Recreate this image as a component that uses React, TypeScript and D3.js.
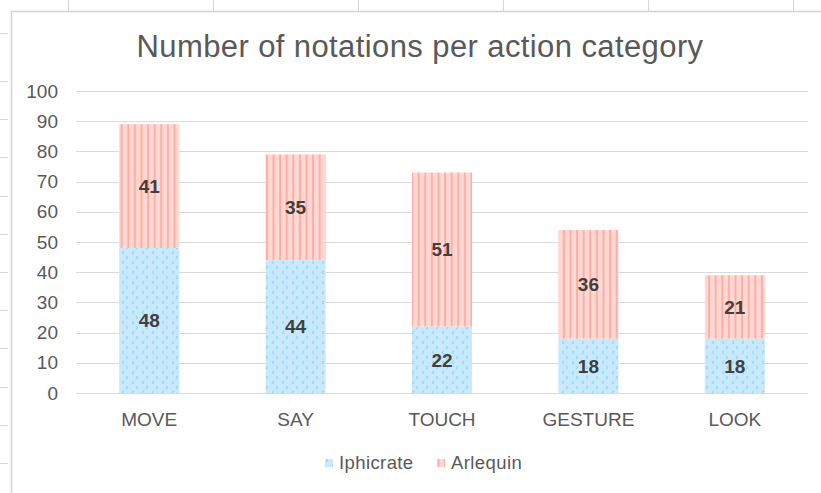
import React, { useEffect, useRef } from 'react';
import * as d3 from 'd3';

// chart data
const categories = ['MOVE', 'SAY', 'TOUCH', 'GESTURE', 'LOOK'];
const iphicrate = [48, 44, 22, 18, 18];
const arlequin = [41, 35, 51, 36, 21];
const seriesNames = ['Iphicrate', 'Arlequin'];
const yTicks = [0, 10, 20, 30, 40, 50, 60, 70, 80, 90, 100];

// spreadsheet background lines
const sheetCols = [68, 213, 358, 503, 648, 793];
const sheetRows = [33, 81, 119, 157, 196, 234, 272, 310, 348, 387, 425, 463];

const W = 821;
const H = 493;
const FONT = '"Liberation Sans", Arial, Helvetica, sans-serif';

export default function App() {
    const svgRef = useRef<SVGSVGElement | null>(null);

    useEffect(() => {
        if (!svgRef.current) return;
        const svg = d3.select(svgRef.current);
        svg.selectAll('*').remove();

        // Patterns
        const defs = svg.append('defs');
        const blue = defs.append('pattern')
            .attr('id', 'pat-blue')
            .attr('patternUnits', 'userSpaceOnUse')
            .attr('width', 10)
            .attr('height', 10);
        blue.append('rect').attr('width', 10).attr('height', 10).attr('fill', '#c7e9fb');
        blue.append('path')
            .attr('d', 'M4,1 L2,2.5 L4,4 M6,6 L8,7.5 L6,9')
            .attr('fill', 'none')
            .attr('stroke', '#86cbf2')
            .attr('stroke-width', 0.9);

        const pink = defs.append('pattern')
            .attr('id', 'pat-pink')
            .attr('patternUnits', 'userSpaceOnUse')
            .attr('width', 6.6)
            .attr('height', 10);
        pink.append('rect').attr('width', 6.6).attr('height', 10).attr('fill', '#ffd8d3');
        pink.append('rect').attr('x', 2).attr('width', 1.8).attr('height', 10).attr('fill', '#ffab9f');

        svg.append('rect').attr('width', W).attr('height', H).attr('fill', '#ffffff');

        // Spreadsheet lines behind the chart
        const sheet = svg.append('g').attr('stroke', '#d6d6d6').attr('stroke-width', 1);
        sheetCols.forEach(x => {
            sheet.append('line').attr('x1', x + 0.5).attr('x2', x + 0.5).attr('y1', 0).attr('y2', 11);
        });
        sheetRows.forEach(y => {
            sheet.append('line').attr('x1', 0).attr('x2', 8).attr('y1', y + 0.5).attr('y2', y + 0.5);
        });

        // Chart frame
        svg.append('path')
            .attr('d', `M11.5,${H} L11.5,11.5 L${W},11.5`)
            .attr('fill', 'none')
            .attr('stroke', '#d4d4d4')
            .attr('stroke-width', 1.5);

        // Title
        svg.append('text')
            .attr('x', 420)
            .attr('y', 57)
            .attr('text-anchor', 'middle')
            .style('font-family', FONT)
            .style('font-size', '31px')
            .style('letter-spacing', '0.4px')
            .style('fill', '#595959')
            .text('Number of notations per action category');

        // Scales
        const x = d3.scaleBand()
            .domain(categories)
            .range([76, 808])
            .paddingInner(0.59)
            .paddingOuter(0.295);

        const y = d3.scaleLinear()
            .domain([0, 100])
            .range([393, 91]);

        // Gridlines
        svg.append('g')
            .selectAll('line')
            .data(yTicks)
            .enter()
            .append('line')
            .attr('x1', 76)
            .attr('x2', 808)
            .attr('y1', d => Math.round(y(d)) + 0.5)
            .attr('y2', d => Math.round(y(d)) + 0.5)
            .attr('stroke', '#d9d9d9')
            .attr('stroke-width', 1.2);

        // Y axis labels
        const yAxis = d3.axisLeft(y).tickValues(yTicks).tickSize(0).tickPadding(0);
        const yg = svg.append('g')
            .attr('transform', 'translate(58,0)')
            .call(yAxis);
        yg.select('.domain').remove();
        yg.selectAll('text')
            .style('font-family', FONT)
            .style('font-size', '19px')
            .style('fill', '#595959');

        // X axis labels
        const xAxis = d3.axisBottom(x).tickSize(0).tickPadding(0);
        const xg = svg.append('g')
            .attr('transform', 'translate(0,412)')
            .call(xAxis);
        xg.select('.domain').remove();
        xg.selectAll('text')
            .style('font-family', FONT)
            .style('font-size', '19px')
            .style('fill', '#595959');

        // Stacked bars
        const rows = categories.map((c, i) => ({ cat: c, Iphicrate: iphicrate[i], Arlequin: arlequin[i] }));
        const stacked = d3.stack<any>().keys(seriesNames)(rows);
        const fills = ['url(#pat-blue)', 'url(#pat-pink)'];

        stacked.forEach((layer, li) => {
            svg.append('g')
                .selectAll('rect')
                .data(layer)
                .enter()
                .append('rect')
                .attr('x', d => x(d.data.cat) as number)
                .attr('y', d => y(d[1]))
                .attr('width', x.bandwidth())
                .attr('height', d => y(d[0]) - y(d[1]))
                .attr('fill', fills[li]);

            svg.append('g')
                .selectAll('text')
                .data(layer)
                .enter()
                .append('text')
                .attr('x', d => (x(d.data.cat) as number) + x.bandwidth() / 2)
                .attr('y', d => (y(d[0]) + y(d[1])) / 2)
                .attr('dy', '0.36em')
                .attr('text-anchor', 'middle')
                .style('font-family', FONT)
                .style('font-size', '19px')
                .style('font-weight', 'bold')
                .style('fill', '#404040')
                .text(d => d[1] - d[0]);
        });

        // Legend
        const legend = svg.append('g').attr('transform', 'translate(0,463)');
        const legendX = [325, 437];
        seriesNames.forEach((name, i) => {
            legend.append('rect')
                .attr('x', legendX[i])
                .attr('y', -4)
                .attr('width', 8)
                .attr('height', 8)
                .attr('fill', fills[i]);
            legend.append('text')
                .attr('x', legendX[i] + 14)
                .attr('y', 0)
                .attr('dy', '0.35em')
                .style('font-family', FONT)
                .style('font-size', '18.5px')
                .style('letter-spacing', '0.4px')
                .style('fill', '#595959')
                .text(name);
        });
    }, []);

    return (
        <div style={{ position: 'fixed', left: 0, top: 0 }}>
            <svg ref={svgRef} width={W} height={H} style={{ display: 'block' }} />
        </div>
    );
}
